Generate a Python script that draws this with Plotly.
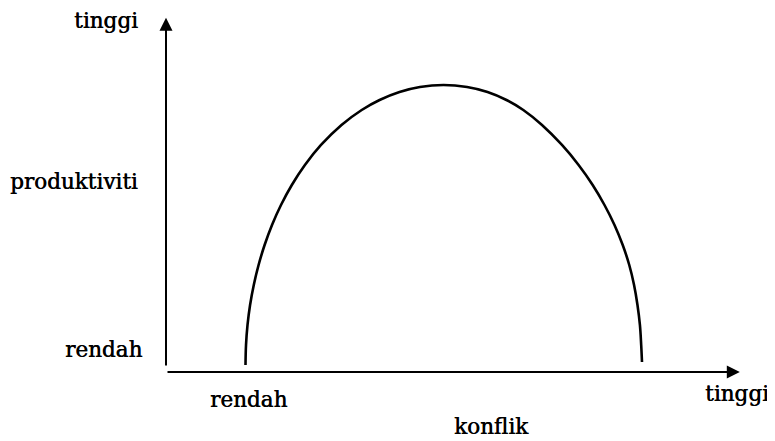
import plotly.graph_objects as go

# Curve (konflik 0-100 vs produktiviti 0-100)
konflik = [13.73, 13.82, 14.08, 14.52, 15.16, 15.99, 17.03, 18.31, 19.86, 21.73,
           23.99, 26.77, 30.31, 33.80, 36.89, 40.33, 43.85, 47.93,
           52.00, 55.53, 58.80, 61.71, 64.94, 68.39, 71.26, 73.69, 75.73,
           77.46, 78.88, 80.01, 80.84, 81.43, 81.85, 82.07, 82.21]
produktiviti = [1.96, 7.56, 13.17, 18.77, 24.37, 29.97, 35.57, 41.18, 46.78, 52.38,
                57.98, 63.59, 69.19, 73.39, 76.19, 78.43, 79.83, 80.39,
                79.83, 78.43, 76.19, 73.39, 69.19, 63.59, 57.98, 52.38, 46.78,
                41.18, 35.57, 29.97, 24.37, 18.77, 13.17, 7.56, 2.80]

y_labels = ["tinggi", "produktiviti", "rendah"]
x_labels = ["rendah", "tinggi"]
x_title = "konflik"

FONT = dict(family="DejaVu Serif", size=21.5, color="black",
            shadow="0.5px 0px 0px black")

fig = go.Figure()
fig.add_trace(go.Scatter(
    x=konflik, y=produktiviti, mode="lines",
    line=dict(color="black", width=2.6, shape="spline", smoothing=1.0, simplify=False),
    hoverinfo="skip", showlegend=False))

ann = []
# axes with arrowheads
ann.append(dict(x=0, y=99.2, ax=0, ay=1.4, xref="x", yref="y", axref="x", ayref="y",
                text="", showarrow=True, arrowhead=2, arrowsize=1.3, arrowwidth=2,
                arrowcolor="black", standoff=0))
ann.append(dict(x=99.1, y=0, ax=0, ay=0, xref="x", yref="y", axref="x", ayref="y",
                text="", showarrow=True, arrowhead=2, arrowsize=1.3, arrowwidth=2,
                arrowcolor="black", standoff=0))

def lab(text, x, y, xanchor="center"):
    ann.append(dict(x=x, y=y, xref="paper", yref="paper", text=text, showarrow=False,
                    xanchor=xanchor, yanchor="middle", font=FONT))

# y-side labels (right aligned left of the axis)
lab(y_labels[0], -0.045, 0.985, "right")
lab(y_labels[1], -0.045, 0.535, "right")
lab(y_labels[2], -0.038, 0.063, "right")
# x-side labels
lab(x_labels[0], 0.1425, -0.076)
lab(x_labels[1], 0.987, -0.059)
lab(x_title, 0.563, -0.154)

fig.update_layout(
    width=767, height=433,
    margin=dict(l=158, r=30, t=7, b=69),
    paper_bgcolor="white", plot_bgcolor="white",
    xaxis=dict(range=[0, 100], visible=False, fixedrange=True),
    yaxis=dict(range=[0, 100], visible=False, fixedrange=True),
    annotations=ann,
    showlegend=False,
)

fig.write_html("out.html")
